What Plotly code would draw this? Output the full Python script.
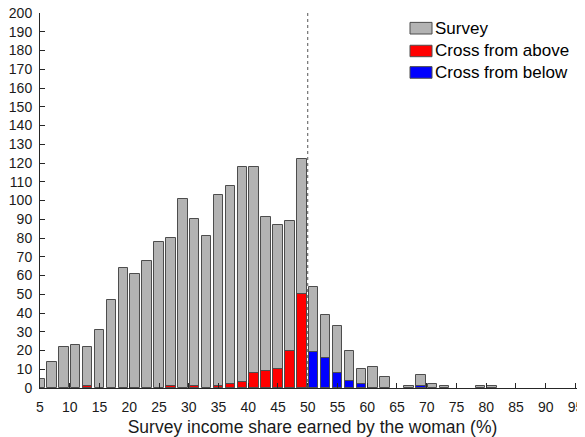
import plotly.graph_objects as go

# bin centres (income share %, bins of width 2)
bin_centers = list(range(5, 95, 2))
survey = [5, 14, 22, 23, 22, 31, 47, 64, 61, 68, 78, 80, 101, 90, 81, 103, 108, 118, 118, 91,
          87, 89, 122, 54, 39, 33, 20, 10, 11, 6, 0, 1, 7, 2, 1, 0, 0, 1, 1, 0,
          0, 0, 0, 0, 0]
cross_above = [0, 0, 0, 0, 1, 0, 0, 0, 0, 0, 0, 1, 0, 1, 0, 1, 2, 3, 8, 9,
               10, 20, 50, 0, 0, 0, 0, 0, 0, 0, 0, 0, 0, 0, 0, 0, 0, 0, 0, 0,
               0, 0, 0, 0, 0]
cross_below = [0, 0, 0, 0, 0, 0, 0, 0, 0, 0, 0, 0, 0, 0, 0, 0, 0, 0, 0, 0,
               0, 0, 0, 19, 16, 8, 4, 2, 0, 0, 0, 0, 1, 0, 0, 0, 0, 0, 0, 0,
               0, 0, 0, 0, 0]
series_names = ["Survey", "Cross from above", "Cross from below"]
threshold = 50
x_ticks = list(range(5, 96, 5))
y_ticks = list(range(0, 201, 10))

colors = ["#b3b3b3", "#ff0000", "#0000ff"]
edge = "#4d4d4d"
FONT = "Liberation Sans, Arial, sans-serif"

fig = go.Figure()
for name, vals, col in zip(series_names, [survey, cross_above, cross_below], colors):
    fig.add_trace(go.Bar(
        x=bin_centers, y=[v if v else None for v in vals], name=name,
        width=1.6, marker=dict(color=col, line=dict(color=edge, width=1)),
        showlegend=False))

fig.add_shape(type="line", x0=threshold, x1=threshold, y0=0, y1=200,
              xref="x", yref="y", line=dict(color="#555555", width=1, dash="3px,3px"))

# custom legend (paper coords within plot area)
rows = [(0.944, 0.975, 0.959), (0.8835, 0.914, 0.899), (0.826, 0.857, 0.841)]
for (y0, y1, yc), name, col in zip(rows, series_names, colors):
    fig.add_shape(type="rect", xref="paper", yref="paper", x0=0.6789, x1=0.7193,
                  y0=y0, y1=y1, fillcolor=col, line=dict(color=edge, width=1))
    fig.add_annotation(xref="paper", yref="paper", x=0.7211, y=yc, text=name,
                       showarrow=False, xanchor="left", yanchor="middle",
                       font=dict(family=FONT, size=17, color="#000000"))

axis_common = dict(showline=True, linecolor="#262626", linewidth=1, ticks="inside",
                   ticklen=5, tickcolor="#262626", showgrid=False, zeroline=False,
                   automargin=False, ticklabeloverflow="allow",
                   tickfont=dict(family=FONT, size=14, color="#1a1a1a"))

fig.update_layout(
    width=585, height=437, barmode="overlay", bargap=0,
    margin=dict(l=32, r=8, t=5, b=57),
    plot_bgcolor="white", paper_bgcolor="white",
    xaxis=dict(range=[5, 96.6], tickvals=x_ticks, ticklabelstandoff=6,
               title=dict(text="Survey income share earned by the woman (%)",
                          font=dict(family=FONT, size=17.5, color="#1a1a1a"), standoff=6),
               **axis_common),
    yaxis=dict(range=[0, 200], tickvals=y_ticks, ticklabelstandoff=4, **axis_common),
)
fig.write_html("out.html")
